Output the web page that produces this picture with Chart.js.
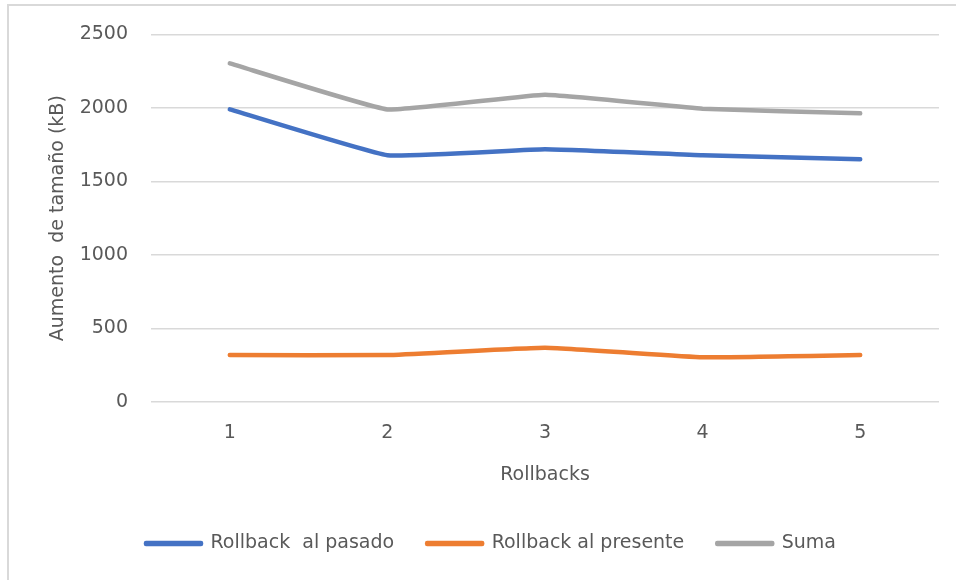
<!doctype html>
<html>
<head>
    <script src="https://cdn.jsdelivr.net/npm/chart.js@4.4.0/dist/chart.umd.min.js"></script>
    <style>
        html, body { margin: 0; background: #fff; overflow: hidden; }
        .frame {
            position: absolute; left: 7px; top: 4px; width: 949px; height: 576px;
            border-left: 2px solid #d9d9d9; border-top: 2px solid #d9d9d9;
            box-sizing: border-box;
        }
        .wrap { position: absolute; left: 0; top: 0; width: 956px; height: 580px; }
    </style>
</head>
<body>
<div class="frame"></div>
<div class="wrap"><canvas id="chart" width="956" height="580"></canvas></div>
<script>
const labels = ['1', '2', '3', '4', '5'];
const pasado = [1990, 1678, 1719, 1678, 1651];
const presente = [319, 319, 369, 304, 319];
const suma = [2303, 1990, 2090, 1995, 1963];

const font = { family: "'DejaVu Sans', sans-serif", size: 19 };
const grey = '#595959';

function series(label, values, color) {
    return {
        label: label,
        data: values,
        borderColor: color,
        backgroundColor: color,
        borderWidth: 4.5,
        pointRadius: 0,
        tension: 0.1,
        borderCapStyle: 'round',
        borderJoinStyle: 'round'
    };
}

const config = {
    type: 'line',
    data: {
        labels: labels,
        datasets: [
            series('Rollback  al pasado', pasado, '#4472c4'),
            series('Rollback al presente', presente, '#ed7d31'),
            series('Suma', suma, '#a5a5a5')
        ]
    },
    options: {
        responsive: false,
        animation: false,
        layout: { padding: { top: 34, right: 17, bottom: 17, left: 43 } },
        plugins: {
            legend: {
                position: 'bottom',
                labels: {
                    color: grey, font: font,
                    boxWidth: 55, boxHeight: 1, padding: 33
                }
            },
            tooltip: { enabled: false }
        },
        scales: {
            x: {
                offset: true,
                grid: { display: false, drawTicks: false },
                border: { display: false },
                ticks: { color: grey, font: font, padding: 20 },
                title: { display: true, text: 'Rollbacks', color: grey, font: font, padding: { top: 0, bottom: 15 } },
                afterFit: (s) => { s.height = 99; }
            },
            y: {
                min: 0, max: 2500,
                grid: { color: '#d9d9d9', lineWidth: 1.5, drawTicks: false },
                border: { display: false },
                ticks: { stepSize: 500, color: grey, font: font, padding: 23, callback: (v) => String(v) },
                title: { display: true, text: 'Aumento  de tamaño (kB)', color: grey, font: font, padding: { top: 4, bottom: 0 } },
                afterFit: (s) => { s.width = 108; }
            }
        }
    }
};

const ctx = document.getElementById('chart').getContext('2d');
const chart = new Chart(ctx, config);
</script>
</body>
</html>
